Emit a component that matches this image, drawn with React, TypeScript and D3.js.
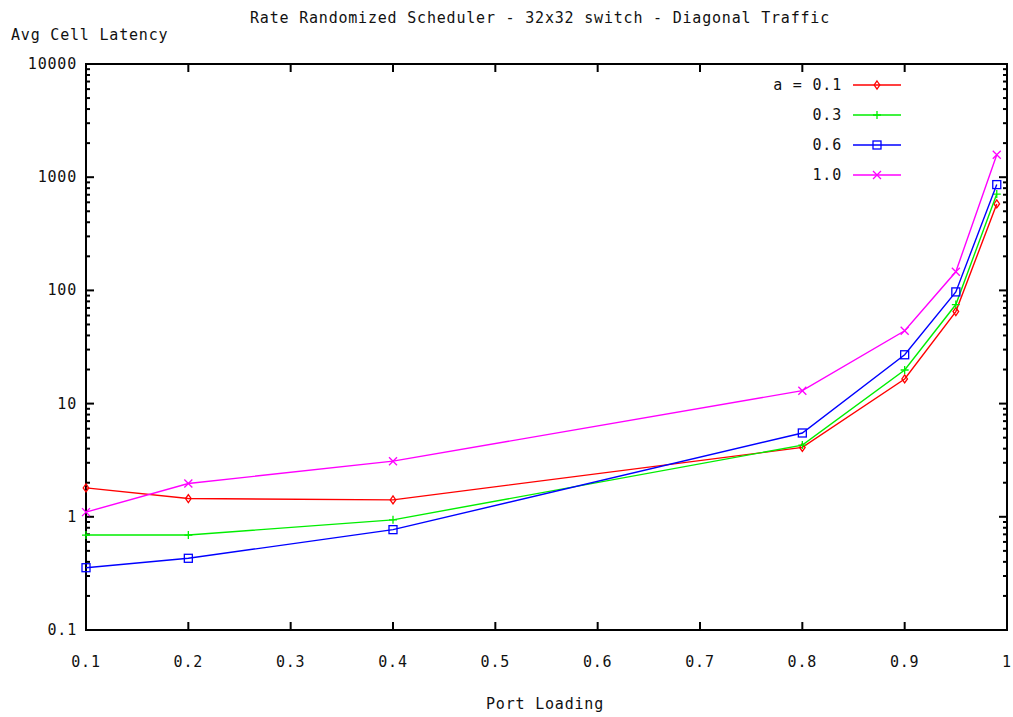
import React from "react";
import * as d3 from "d3";

// Port loading values where each scheduler run was measured
const loads = [0.1, 0.2, 0.4, 0.8, 0.9, 0.95, 0.99];

// Average cell latency per randomization parameter a
const latencyA01 = [1.8, 1.45, 1.41, 4.1, 16.5, 65, 580];
const latencyA03 = [0.69, 0.69, 0.94, 4.3, 19.8, 75, 710];
const latencyA06 = [0.355, 0.43, 0.77, 5.5, 27, 97, 860];
const latencyA10 = [1.1, 1.97, 3.1, 13, 44, 146, 1580];

const seriesLabels = ["a = 0.1", "0.3", "0.6", "1.0"];
const seriesColors = ["#ff0000", "#00ee00", "#0000ff", "#ff00ff"];
const seriesMarkers = ["diamond", "plus", "square", "cross"];

const xTicks = [0.1, 0.2, 0.3, 0.4, 0.5, 0.6, 0.7, 0.8, 0.9, 1];
const yTicks = [0.1, 1, 10, 100, 1000, 10000];

const W = 1013;
const H = 717;
const margin = { left: 86, right: 1007, top: 64, bottom: 630 };
const FONT = "'DejaVu Sans Mono', 'Liberation Mono', monospace";

function Marker({ kind, x, y, color }: { kind: string; x: number; y: number; color: string }) {
  const s = 4;
  if (kind === "diamond")
    return (
      <path
        d={`M${x},${y - s} L${x + s * 0.7},${y} L${x},${y + s} L${x - s * 0.7},${y} Z`}
        fill="none"
        stroke={color}
        strokeWidth={1.3}
      />
    );
  if (kind === "plus")
    return (
      <path d={`M${x - s},${y} H${x + s} M${x},${y - s} V${y + s}`} stroke={color} strokeWidth={1.3} />
    );
  if (kind === "square")
    return (
      <rect x={x - s} y={y - s} width={2 * s} height={2 * s} fill="none" stroke={color} strokeWidth={1.3} />
    );
  return (
    <path
      d={`M${x - s},${y - s} L${x + s},${y + s} M${x - s},${y + s} L${x + s},${y - s}`}
      stroke={color}
      strokeWidth={1.3}
    />
  );
}

export default function App() {
  const x = d3.scaleLinear().domain([0.1, 1]).range([margin.left, margin.right]);
  const y = d3.scaleLog().domain([0.1, 10000]).range([margin.bottom, margin.top]);

  const series = [latencyA01, latencyA03, latencyA06, latencyA10];
  const line = d3
    .line<number>()
    .x((_, i) => x(loads[i]))
    .y((d) => y(d));

  const minorTicks: number[] = [];
  for (let e = -1; e < 4; e++) {
    for (let m = 2; m <= 9; m++) minorTicks.push(m * Math.pow(10, e));
  }

  const textStyle = { fontFamily: FONT, fontSize: 15, letterSpacing: 0.8, fill: "#111" } as const;

  return (
    <svg
      width={W}
      height={H}
      style={{ position: "absolute", left: 0, top: 0, background: "#fff" }}
    >
      <rect x={0} y={0} width={W} height={H} fill="#fff" />
      <text x={540} y={23} textAnchor="middle" {...textStyle}>
        Rate Randomized Scheduler - 32x32 switch - Diagonal Traffic
      </text>
      <text x={11} y={40} {...textStyle}>
        Avg Cell Latency
      </text>
      <text x={545} y={709} textAnchor="middle" {...textStyle}>
        Port Loading
      </text>

      {/* frame */}
      <rect
        x={margin.left}
        y={margin.top}
        width={margin.right - margin.left}
        height={margin.bottom - margin.top}
        fill="none"
        stroke="#000"
        strokeWidth={2}
      />

      {/* x ticks, top and bottom */}
      {xTicks.map((t) => (
        <g key={`xt${t}`}>
          <line x1={x(t)} x2={x(t)} y1={margin.bottom} y2={margin.bottom - 8} stroke="#000" strokeWidth={2} />
          <line x1={x(t)} x2={x(t)} y1={margin.top} y2={margin.top + 8} stroke="#000" strokeWidth={2} />
          <text x={x(t)} y={667} textAnchor="middle" {...textStyle}>
            {String(t)}
          </text>
        </g>
      ))}

      {/* y ticks, left and right */}
      {yTicks.map((t) => (
        <g key={`yt${t}`}>
          <line x1={margin.left} x2={margin.left + 8} y1={y(t)} y2={y(t)} stroke="#000" strokeWidth={2} />
          <line x1={margin.right} x2={margin.right - 8} y1={y(t)} y2={y(t)} stroke="#000" strokeWidth={2} />
          <text x={77} y={y(t) + 5} textAnchor="end" {...textStyle}>
            {String(t)}
          </text>
        </g>
      ))}
      {minorTicks.map((t) => (
        <g key={`ym${t}`}>
          <line x1={margin.left} x2={margin.left + 4} y1={y(t)} y2={y(t)} stroke="#000" strokeWidth={2} />
          <line x1={margin.right} x2={margin.right - 4} y1={y(t)} y2={y(t)} stroke="#000" strokeWidth={2} />
        </g>
      ))}

      {/* series */}
      {series.map((vals, si) => (
        <g key={`s${si}`}>
          <path d={line(vals) ?? ""} fill="none" stroke={seriesColors[si]} strokeWidth={1.4} />
          {vals.map((v, i) => (
            <Marker key={i} kind={seriesMarkers[si]} x={x(loads[i])} y={y(v)} color={seriesColors[si]} />
          ))}
        </g>
      ))}

      {/* legend */}
      {seriesLabels.map((lab, si) => {
        const ly = 85 + si * 30;
        return (
          <g key={`lg${si}`}>
            <text x={842} y={ly + 5} textAnchor="end" {...textStyle}>
              {lab}
            </text>
            <line x1={853} x2={901} y1={ly} y2={ly} stroke={seriesColors[si]} strokeWidth={1.4} />
            <Marker kind={seriesMarkers[si]} x={877} y={ly} color={seriesColors[si]} />
          </g>
        );
      })}
    </svg>
  );
}
